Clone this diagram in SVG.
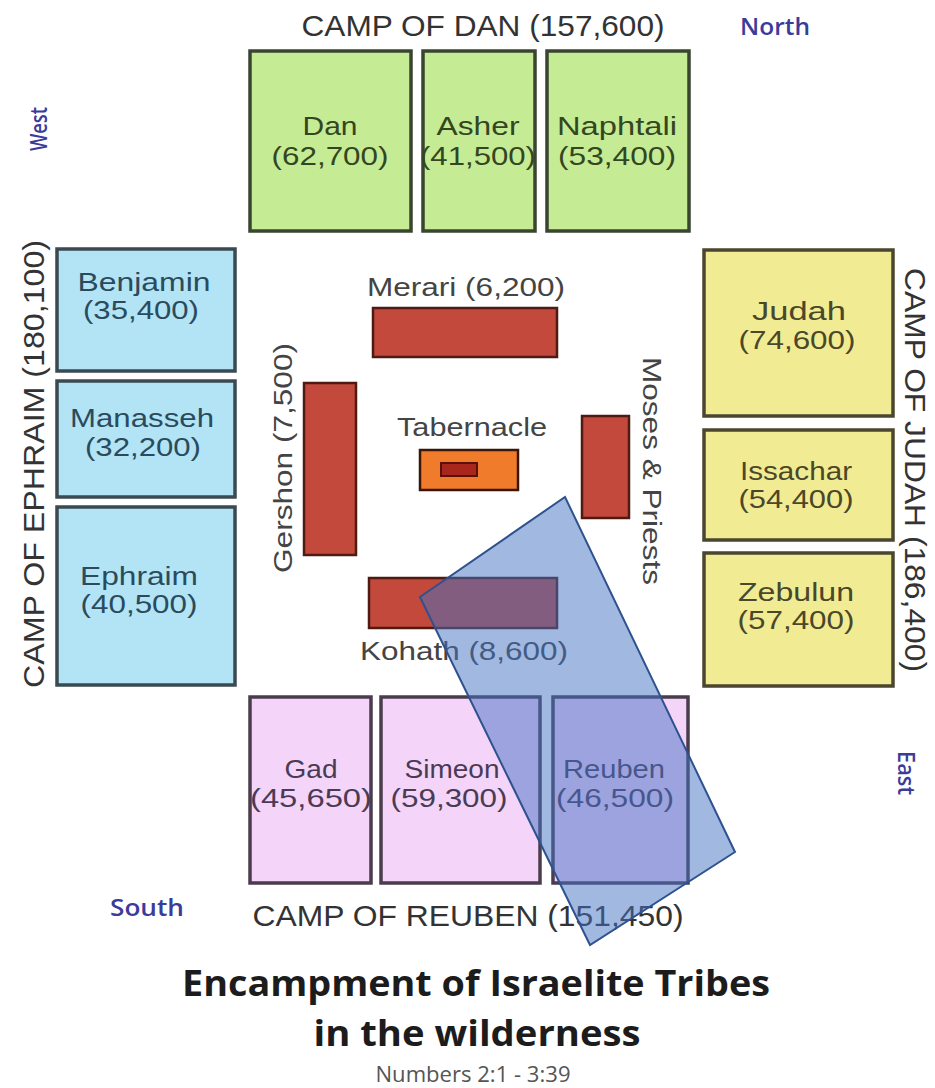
<svg xmlns="http://www.w3.org/2000/svg" width="935" height="1088" viewBox="0 0 935 1088">
<style>
text{font-family:"Liberation Sans",Arial,sans-serif;text-anchor:middle}
.n{font-size:26px}
.camp{font-size:30px;fill:#333}
.dir{font-family:"Open Sans",sans-serif;font-size:23px;font-weight:600;fill:#3b3b9a}
.g rect{fill:#c6eb95;stroke:#3a4530;stroke-width:3.5}
.g text{fill:#34461f}
.b rect{fill:#b2e4f6;stroke:#3a4a52;stroke-width:3.5}
.b text{fill:#2b4b5c}
.y rect{fill:#f1ec93;stroke:#4a4630;stroke-width:3.5}
.y text{fill:#4b4729}
.p rect{fill:#f4d4f8;stroke:#4a3c4c;stroke-width:3.5}
.p text{fill:#4a3b55}
.lv rect{fill:#c2493b;stroke:#4e1a12;stroke-width:2.5}
.lv text{fill:#444}
.title{font-family:"Open Sans",sans-serif;font-weight:700;font-size:35px;fill:#1c1c1c}
</style>
<rect width="935" height="1088" fill="#fff"/>

<text class="camp" x="483" y="36" textLength="363" lengthAdjust="spacingAndGlyphs">CAMP OF DAN (157,600)</text>
<text class="dir" x="775" y="35" textLength="70" lengthAdjust="spacingAndGlyphs">North</text>
<text class="dir" transform="translate(47,129) rotate(-90)" textLength="44" lengthAdjust="spacingAndGlyphs">West</text>
<text class="camp" transform="translate(44,464) rotate(-90)" textLength="448" lengthAdjust="spacingAndGlyphs">CAMP OF EPHRAIM (180,100)</text>
<text class="camp" transform="translate(905,470) rotate(90)" textLength="404" lengthAdjust="spacingAndGlyphs">CAMP OF JUDAH (186,400)</text>
<text class="dir" transform="translate(898,773) rotate(90)" textLength="44" lengthAdjust="spacingAndGlyphs">East</text>
<text class="dir" x="147" y="916" textLength="74" lengthAdjust="spacingAndGlyphs">South</text>
<text class="camp" x="468" y="926" textLength="431" lengthAdjust="spacingAndGlyphs">CAMP OF REUBEN (151,450)</text>

<g id="dan" class="g"><rect x="250" y="51" width="161" height="180"/><text class="n" x="330" y="135" textLength="55" lengthAdjust="spacingAndGlyphs">Dan</text><text class="n" x="330" y="165" textLength="117" lengthAdjust="spacingAndGlyphs">(62,700)</text></g>
<g id="asher" class="g"><rect x="423" y="51" width="112" height="180"/><text class="n" x="478" y="135" textLength="83" lengthAdjust="spacingAndGlyphs">Asher</text><text class="n" x="478" y="165" textLength="116" lengthAdjust="spacingAndGlyphs">(41,500)</text></g>
<g id="naphtali" class="g"><rect x="547" y="51" width="142" height="180"/><text class="n" x="617" y="135" textLength="120" lengthAdjust="spacingAndGlyphs">Naphtali</text><text class="n" x="617" y="165" textLength="118" lengthAdjust="spacingAndGlyphs">(53,400)</text></g>

<g id="benjamin" class="b"><rect x="57" y="249" width="178" height="122"/><text class="n" x="144" y="291" textLength="133" lengthAdjust="spacingAndGlyphs">Benjamin</text><text class="n" x="141" y="319" textLength="116" lengthAdjust="spacingAndGlyphs">(35,400)</text></g>
<g id="manasseh" class="b"><rect x="57" y="381" width="178" height="116"/><text class="n" x="142" y="427" textLength="144" lengthAdjust="spacingAndGlyphs">Manasseh</text><text class="n" x="143" y="456" textLength="116" lengthAdjust="spacingAndGlyphs">(32,200)</text></g>
<g id="ephraim" class="b"><rect x="57" y="507" width="178" height="178"/><text class="n" x="139" y="585" textLength="118" lengthAdjust="spacingAndGlyphs">Ephraim</text><text class="n" x="139" y="613" textLength="117" lengthAdjust="spacingAndGlyphs">(40,500)</text></g>

<g id="judah" class="y"><rect x="704" y="250" width="189" height="166"/><text class="n" x="799" y="320" textLength="94" lengthAdjust="spacingAndGlyphs">Judah</text><text class="n" x="797" y="349" textLength="117" lengthAdjust="spacingAndGlyphs">(74,600)</text></g>
<g id="issachar" class="y"><rect x="704" y="430" width="189" height="110"/><text class="n" x="796" y="480" textLength="112" lengthAdjust="spacingAndGlyphs">Issachar</text><text class="n" x="796" y="508" textLength="115" lengthAdjust="spacingAndGlyphs">(54,400)</text></g>
<g id="zebulun" class="y"><rect x="704" y="553" width="189" height="133"/><text class="n" x="796" y="601" textLength="116" lengthAdjust="spacingAndGlyphs">Zebulun</text><text class="n" x="796" y="629" textLength="117" lengthAdjust="spacingAndGlyphs">(57,400)</text></g>

<g id="gad" class="p"><rect x="250" y="697" width="121" height="186"/><text class="n" x="311" y="778" textLength="53" lengthAdjust="spacingAndGlyphs">Gad</text><text class="n" x="311" y="807" textLength="122" lengthAdjust="spacingAndGlyphs">(45,650)</text></g>
<g id="simeon" class="p"><rect x="381" y="697" width="159" height="186"/><text class="n" x="452" y="778" textLength="95" lengthAdjust="spacingAndGlyphs">Simeon</text><text class="n" x="449" y="807" textLength="117" lengthAdjust="spacingAndGlyphs">(59,300)</text></g>
<g id="reuben" class="p"><rect x="553" y="697" width="135" height="186"/><text class="n" x="614" y="778" textLength="102" lengthAdjust="spacingAndGlyphs">Reuben</text><text class="n" x="615" y="807" textLength="118" lengthAdjust="spacingAndGlyphs">(46,500)</text></g>

<g id="merari" class="lv"><rect x="373" y="308" width="184" height="49"/><text class="n" x="466" y="296" textLength="198" lengthAdjust="spacingAndGlyphs">Merari (6,200)</text></g>
<g id="gershon" class="lv"><rect x="304" y="383" width="52" height="172"/><text class="n" transform="translate(292,458) rotate(-90)" textLength="230" lengthAdjust="spacingAndGlyphs">Gershon (7,500)</text></g>
<g id="moses" class="lv"><rect x="582" y="416" width="47" height="102"/><text class="n" transform="translate(643,471) rotate(90)" textLength="228" lengthAdjust="spacingAndGlyphs">Moses &amp; Priests</text></g>
<g id="kohath" class="lv"><rect x="369" y="578" width="188" height="50"/><text class="n" x="464" y="660" textLength="208" lengthAdjust="spacingAndGlyphs">Kohath (8,600)</text></g>
<g id="tabernacle"><text class="n" x="472" y="436" fill="#444" textLength="150" lengthAdjust="spacingAndGlyphs">Tabernacle</text><rect x="420" y="450" width="98" height="40" fill="#f07b2b" stroke="#3a1608" stroke-width="2.5"/><rect x="441" y="463" width="36" height="13" fill="#a8261b" stroke="#5a0f0a" stroke-width="2"/></g>

<g id="connectors"></g>

<polygon id="overlay" points="420,597 565,497 735,852 590,945" fill="#4472c4" fill-opacity="0.5" stroke="#2f528f" stroke-width="2"/>

<text class="title" x="476" y="996" textLength="588" lengthAdjust="spacingAndGlyphs">Encampment of Israelite Tribes</text>
<text class="title" x="477" y="1046" textLength="327" lengthAdjust="spacingAndGlyphs">in the wilderness</text>
<text x="473" y="1082" style="font-family:'Open Sans',sans-serif;font-size:22px;fill:#555" textLength="195" lengthAdjust="spacingAndGlyphs">Numbers 2:1 - 3:39</text>
</svg>
